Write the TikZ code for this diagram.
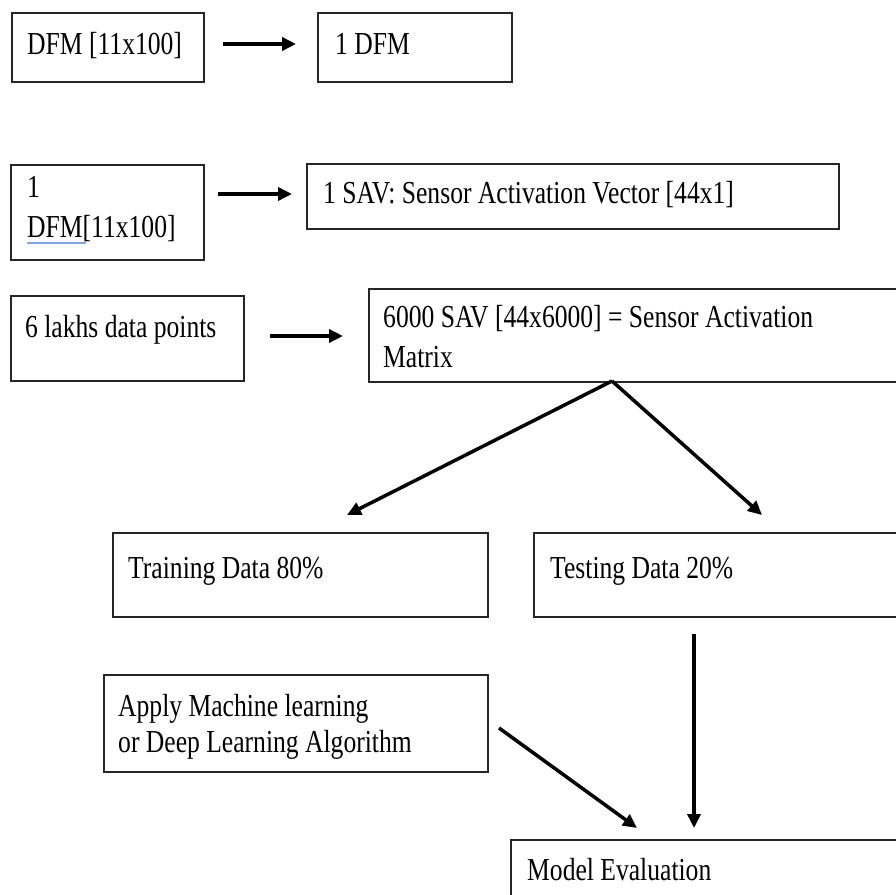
\documentclass[tikz,border=0pt]{standalone}
\usepackage{fontspec}
\setmainfont[FakeStretch=0.8]{Liberation Serif}
\usetikzlibrary{arrows.meta}
\definecolor{spellblue}{RGB}{130,165,225}
\begin{document}
\begin{tikzpicture}[x=1pt,y=-1pt,
  box/.style={draw=black!85, line width=1.8pt, inner sep=0pt, anchor=north west},
  txt/.style={anchor=base west, inner sep=0pt, font=\fontsize{32}{40}\selectfont},
  arr/.style={line width=3.5pt, -{Triangle[length=14pt,width=13pt]}}]
\useasboundingbox (0,0) rectangle (896,894);
% boxes
\node[box, minimum width=192pt, minimum height=69pt] (b1) at (11,12) {};
\node[box, minimum width=194pt, minimum height=69pt] (b2) at (317,12) {};
\node[box, minimum width=193pt, minimum height=95pt] (b3) at (10,164) {};
\node[box, minimum width=532pt, minimum height=65pt] (b4) at (306,163) {};
\node[box, minimum width=233pt, minimum height=85pt] (b5) at (10,295) {};
\node[box, minimum width=560pt, minimum height=93pt] (b6) at (368,288) {};
\node[box, minimum width=375pt, minimum height=84pt] (b7) at (112,532) {};
\node[box, minimum width=400pt, minimum height=84pt] (b8) at (533,532) {};
\node[box, minimum width=384pt, minimum height=97pt] (b9) at (103,674) {};
\node[box, minimum width=420pt, minimum height=100pt] (b10) at (510,839) {};
% texts
\node[txt] (t1) at (27,54) {DFM [11x100]};
\node[txt] (t2) at (335,54) {1 DFM};
\node[txt] (t3a) at (27,197) {1};
\node[txt] (t3b) at (27,237) {DFM[11x100]};
\node[txt] (t4) at (323,203) {1 SAV: Sensor Activation Vector [44x1]};
\node[txt] (t5) at (25,337) {6 lakhs data points};
\node[txt] (t6a) at (383,327) {6000 SAV [44x6000] = Sensor Activation};
\node[txt] (t6b) at (383,367) {Matrix};
\node[txt] (t7) at (128,578) {Training Data 80\%};
\node[txt] (t8) at (550,578) {Testing Data 20\%};
\node[txt] (t9a) at (118,716) {Apply Machine learning};
\node[txt] (t9b) at (118,752) {or Deep Learning Algorithm};
\node[txt] (t10) at (527,880) {Model Evaluation};
% spell-check underline
\draw[spellblue, line width=2.5pt] (27,243) -- (86,243);
% connector ends
\coordinate (a1s) at (223,44);  \coordinate (a1e) at (296,44);
\coordinate (a2s) at (218,194); \coordinate (a2e) at (292,194);
\coordinate (a3s) at (270,336); \coordinate (a3e) at (343,336);
\coordinate (apex) at (612,381);
\coordinate (a4e) at (347,515); \coordinate (a5e) at (762,515);
\coordinate (a6s) at (694,634); \coordinate (a6e) at (694,828);
\coordinate (a7s) at (499,728); \coordinate (a7e) at (637,828);
\draw[arr] (a1s) -- (a1e);
\draw[arr] (a2s) -- (a2e);
\draw[arr] (a3s) -- (a3e);
\draw[arr] (apex) -- (a4e);
\draw[arr] (apex) -- (a5e);
\draw[arr] (a6s) -- (a6e);
\draw[arr] (a7s) -- (a7e);
\end{tikzpicture}
\end{document}
